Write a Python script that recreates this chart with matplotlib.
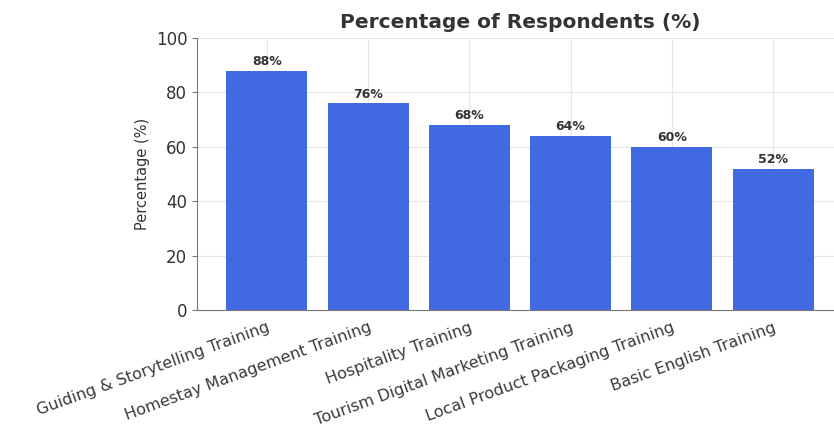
import matplotlib.pyplot as plt

# data
categories = ["Guiding & Storytelling Training", "Homestay Management Training",
              "Hospitality Training", "Tourism Digital Marketing Training",
              "Local Product Packaging Training", "Basic English Training"]
percentages = [88, 76, 68, 64, 60, 52]

fig = plt.figure(figsize=(8.34, 4.30), dpi=100)
# axes runs past the right edge (reference is cropped there)
ax = fig.add_axes([197 / 834, 120 / 430, (843 - 197) / 834, 272 / 430])

bars = ax.bar(range(len(categories)), percentages, width=0.8, color="royalblue", zorder=2)

for b, v in zip(bars, percentages):
    ax.text(b.get_x() + b.get_width() / 2, v + 1, f"{v}%", ha="center", va="bottom",
            fontsize=9, fontweight="bold", color="#333333")

ax.set_ylim(0, 100)
ax.set_xticks(range(len(categories)))
ax.set_xticklabels(categories, rotation=20, ha="right", fontsize=11.5, color="#3a3a3a",
                   rotation_mode="anchor")
ax.tick_params(axis="y", labelsize=12, labelcolor="#333333", color="#777777")
ax.tick_params(axis="x", length=0, pad=7)
ax.set_ylabel("Percentage (%)", fontsize=10.5, color="#333333")
ax.set_title("Percentage of Respondents (%)", fontsize=14.5, fontweight="bold",
             color="#333333", pad=7)

ax.grid(True, color="#e6e6e6", linewidth=0.8, zorder=0)
ax.set_axisbelow(True)
for s in ["top", "right"]:
    ax.spines[s].set_visible(False)
ax.spines["left"].set_color("#777777")
ax.spines["bottom"].set_color("#777777")

fig.savefig("out.png", dpi=100)
